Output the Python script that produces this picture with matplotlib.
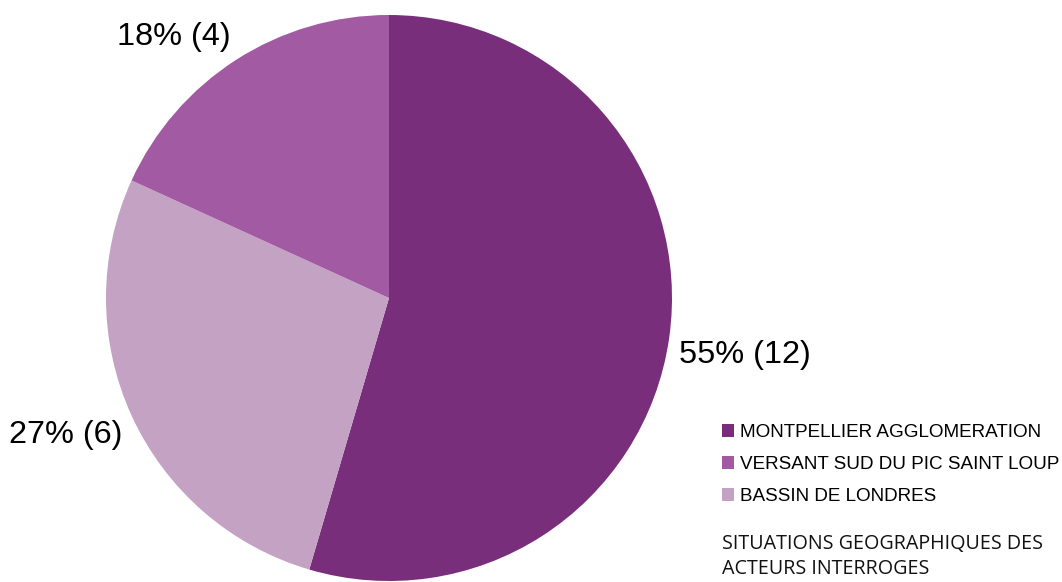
import numpy as np
import matplotlib.pyplot as plt

# Geographic origin of the people interviewed
regions = ['MONTPELLIER AGGLOMERATION', 'VERSANT SUD DU PIC SAINT LOUP', 'BASSIN DE LONDRES']
counts = [12, 4, 6]
order = [0, 2, 1]  # drawing order around the pie (clockwise from top)
colors = ['#782e7a', '#c4a2c4', '#a25aa3']

W, H = 1062, 582
fig = plt.figure(figsize=(W / 100, H / 100), dpi=100)
ax = fig.add_axes([0, 0, 1, 1])

cx, cy, r = 389, 284, 283
vals = [counts[i] for i in order]
wedges, _ = ax.pie(vals, center=(cx, cy), radius=r, startangle=90,
                   counterclock=False, colors=colors,
                   wedgeprops=dict(linewidth=0))
ax.set_xlim(0, W)
ax.set_ylim(0, H)
ax.set_aspect('equal')
ax.axis('off')

# value labels just outside each slice, anchored on the corner nearest the pie
total = sum(counts)
for w, v in zip(wedges, vals):
    mid = np.radians((w.theta1 + w.theta2) / 2)
    x = cx + 1.035 * r * np.cos(mid)
    y = cy + 1.035 * r * np.sin(mid)
    ha = 'left' if np.cos(mid) > 0 else 'right'
    va = 'bottom' if np.sin(mid) > 0 else 'top'
    ax.text(x, y, f'{round(100 * v / total)}% ({v})', ha=ha, va=va,
            fontsize=23.4, family='Liberation Sans', color='black')

# legend
handles = [wedges[order.index(i)] for i in range(len(regions))]
leg = fig.legend(handles, regions, loc='upper left',
                 bbox_to_anchor=(722 / W, 1 - 424 / H), frameon=False,
                 prop=dict(family='Liberation Sans', size=13.6),
                 handlelength=0.65, handleheight=0.65, handletextpad=0.3,
                 labelspacing=0.8, borderpad=0, borderaxespad=0)

fig.text(722 / W, 1 - 534 / H, 'SITUATIONS GEOGRAPHIQUES DES\nACTEURS INTERROGES',
         ha='left', va='top', fontsize=14.2, family='Open Sans', color='#111111',
         linespacing=1.35)

fig.savefig('out.png', dpi=100)
